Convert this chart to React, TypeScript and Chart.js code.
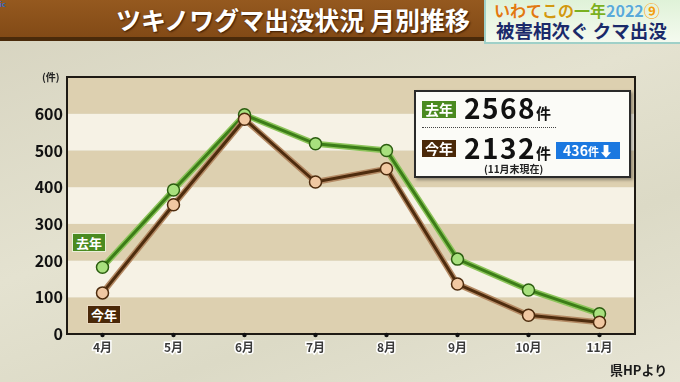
import React, { useEffect, useRef } from "react";
import { Chart, registerables } from "chart.js";
Chart.register(...registerables);

const months = ["4月", "5月", "6月", "7月", "8月", "9月", "10月", "11月"];
const lastYear = [182, 392, 597, 518, 500, 204, 120, 55];
const thisYear = [112, 352, 585, 414, 450, 136, 51, 32];
const yTicks = [0, 100, 200, 300, 400, 500, 600];
const yMax = 700;
const bandStep = 100;

const JP = '"Noto Sans CJK JP", "Noto Sans", sans-serif';

const plotPlugin = {
  id: "plotDeco",
  beforeDatasetsDraw(chart: any) {
    const { ctx, chartArea: a, scales } = chart;
    const y = scales.y;
    ctx.save();
    for (let v = 0; v < yMax; v += bandStep) {
      const top = y.getPixelForValue(v + bandStep);
      const bot = y.getPixelForValue(v);
      ctx.fillStyle = (v / bandStep) % 2 === 0 ? "#ddd0b0" : "#f6f2e5";
      ctx.fillRect(a.left, top, a.right - a.left, bot - top);
    }
    ctx.strokeStyle = "#1e1a14";
    ctx.lineWidth = 2;
    ctx.strokeRect(a.left, a.top, a.right - a.left, a.bottom - a.top);
    ctx.restore();
  },
  afterDraw(chart: any) {
    const { ctx, chartArea: a, scales } = chart;
    const x = scales.x;
    ctx.save();
    ctx.fillStyle = "#111";
    months.forEach((_, i) => {
      const px = x.getPixelForValue(i);
      ctx.beginPath();
      ctx.arc(px, a.bottom + 1, 2.2, 0, Math.PI * 2);
      ctx.fill();
    });
    ctx.restore();
  },
};

export default function App() {
  const ref = useRef<HTMLCanvasElement>(null);
  useEffect(() => {
    document.body.style.margin = "0";
    const chart = new Chart(ref.current!, {
      type: "line",
      data: {
        labels: months,
        datasets: [
          {
            data: thisYear,
            borderColor: "#4e2c0e",
            borderWidth: 3,
            pointRadius: 6,
            pointBackgroundColor: "#f0c8a2",
            pointBorderColor: "#4e2c0e",
            pointBorderWidth: 1.5,
            order: 0,
          },
          {
            data: thisYear,
            borderColor: "#b48a64",
            borderWidth: 6,
            pointRadius: 0,
            order: 1,
          },
          {
            data: lastYear,
            borderColor: "#3c7d18",
            borderWidth: 3,
            pointRadius: 6,
            pointBackgroundColor: "#a8e07e",
            pointBorderColor: "#2c5e10",
            pointBorderWidth: 1.5,
            order: 2,
          },
          {
            data: lastYear,
            borderColor: "#8cc45a",
            borderWidth: 6,
            pointRadius: 0,
            order: 3,
          },
        ],
      },
      options: {
        responsive: false,
        animation: false,
        layout: { padding: { left: 0, top: 77, right: 45, bottom: 24 } },
        plugins: { legend: { display: false }, tooltip: { enabled: false } },
        scales: {
          x: {
            type: "category",
            offset: true,
            grid: { display: false, drawTicks: false },
            border: { display: false },
            afterFit: (s: any) => {
              s.height = 24;
            },
            ticks: {
              padding: 6,
              color: "#3a3a3a",
              textStrokeColor: "#ffffff",
              textStrokeWidth: 3,
              font: { family: JP, size: 12, weight: "bold" },
              maxRotation: 0,
            },
          },
          y: {
            min: 0,
            max: yMax,
            grid: { display: false, drawTicks: false },
            border: { display: false },
            afterFit: (s: any) => {
              s.width = 67;
            },
            afterBuildTicks: (s: any) => {
              s.ticks = yTicks.map((v) => ({ value: v }));
            },
            ticks: {
              padding: 4,
              color: "#111",
              font: { family: JP, size: 16, weight: "bold" },
            },
          },
        },
      },
      plugins: [plotPlugin],
    });
    return () => chart.destroy();
  }, []);

  const abs = (s: React.CSSProperties): React.CSSProperties => ({ position: "absolute", ...s });
  const tag = (bg: string): React.CSSProperties => ({
    background: bg,
    color: "#fff",
    fontWeight: 700,
    fontSize: 13,
    lineHeight: "17px",
    padding: "0 3px",
    fontFamily: JP,
  });

  return (
    <div
      style={{
        position: "fixed",
        left: 0,
        top: 0,
        width: 680,
        height: 382,
        overflow: "hidden",
        fontFamily: JP,
        background: "linear-gradient(160deg, #d6d3bf 0%, #e4e2d0 45%, #dcdac6 70%, #e6e4d4 100%)",
      }}
    >
      {/* header */}
      <div style={abs({ left: 0, top: 0, width: 484, height: 37, background: "linear-gradient(#95591f, #824a16)", borderBottom: "4px solid #4a2a0a" })} />
      <div style={abs({ left: 0, top: 0, fontSize: 7, color: "#2a6ad0", fontWeight: 700, lineHeight: "8px" })}>ic</div>
      <div
        style={abs({
          left: 100,
          top: 3,
          width: 370,
          textAlign: "right",
          color: "#fff",
          fontSize: 25,
          fontWeight: 700,
          lineHeight: "32px",
          textShadow: "1px 1px 2px #3a1a00",
          whiteSpace: "nowrap",
        })}
      >
        ツキノワグマ出没状況 月別推移
      </div>
      <div
        style={abs({
          left: 484,
          top: 0,
          width: 196,
          height: 44,
          background: "linear-gradient(#dff2d8, #f4faef)",
          borderLeft: "2px solid #9fd0c8",
          borderBottom: "2px solid #9fd0c8",
          boxSizing: "border-box",
        })}
      >
        <div style={abs({ left: 8, top: 0, fontSize: 16, fontWeight: 700, lineHeight: "20px", color: "#e08a10", whiteSpace: "nowrap", textShadow: "0 0 1px #fff" })}>
          <span style={{ color: "#e07a10" }}>いわて</span>
          <span style={{ color: "#d09a10" }}>この</span>
          <span style={{ color: "#7ab020" }}>一年</span>
          <span style={{ color: "#5aaad8" }}>2022</span>
          <span style={{ color: "#f0a010" }}>⑨</span>
        </div>
        <div style={abs({ left: 10, top: 19, fontSize: 18.5, fontWeight: 700, lineHeight: "22px", color: "#1a2a6a", whiteSpace: "nowrap" })}>
          被害相次ぐ クマ出没
        </div>
      </div>

      <canvas ref={ref} width={680} height={382} style={abs({ left: 0, top: 0 })} />

      <div style={abs({ left: 42, top: 71, fontSize: 10, fontWeight: 700, color: "#222", lineHeight: "12px" })}>(件)</div>

      {/* in-plot labels */}
      <div style={abs({ left: 72, top: 233, ...tag("#4a8a20"), border: "1px solid #e8f0d8" })}>去年</div>
      <div style={abs({ left: 87, top: 305, ...tag("#4a2808"), border: "1px solid #e8d8c0" })}>今年</div>

      {/* info box */}
      <div
        style={abs({
          left: 414,
          top: 90,
          width: 217,
          height: 88,
          background: "#fbfbf7",
          border: "2px solid #2a2a2a",
          boxSizing: "border-box",
          boxShadow: "2px 2px 3px rgba(0,0,0,0.35)",
        })}
      />
      <div style={abs({ left: 422, top: 101, ...tag("#4a8a20"), fontSize: 14, lineHeight: "17px" })}>去年</div>
      <div style={abs({ left: 464, top: 89, fontSize: 28, letterSpacing: 1.5, fontWeight: 700, color: "#111", lineHeight: "36px", whiteSpace: "nowrap" })}>
        2568<span style={{ fontSize: 15, letterSpacing: 0 }}>件</span>
      </div>
      <div style={abs({ left: 422, top: 127, width: 134, borderTop: "1.5px dotted #444" })} />
      <div style={abs({ left: 422, top: 140, ...tag("#4a2808"), fontSize: 14, lineHeight: "17px" })}>今年</div>
      <div style={abs({ left: 464, top: 129, fontSize: 28, letterSpacing: 1.5, fontWeight: 700, color: "#111", lineHeight: "36px", whiteSpace: "nowrap" })}>
        2132<span style={{ fontSize: 15, letterSpacing: 0 }}>件</span>
      </div>
      <div
        style={abs({
          left: 556,
          top: 142,
          width: 64,
          height: 17,
          background: "#1b78e0",
          color: "#fff",
          fontSize: 14,
          fontWeight: 700,
          lineHeight: "17px",
          textAlign: "center",
          whiteSpace: "nowrap",
        })}
      >
        436<span style={{ fontSize: 11 }}>件</span>⬇
      </div>
      <div style={abs({ left: 484, top: 162, fontSize: 10, fontWeight: 700, color: "#222", lineHeight: "13px", whiteSpace: "nowrap" })}>
        (11月末現在)
      </div>

      <div style={abs({ left: 610, top: 361, fontSize: 13, fontWeight: 700, color: "#1a1a1a", lineHeight: "17px", whiteSpace: "nowrap" })}>
        県HPより
      </div>
    </div>
  );
}
